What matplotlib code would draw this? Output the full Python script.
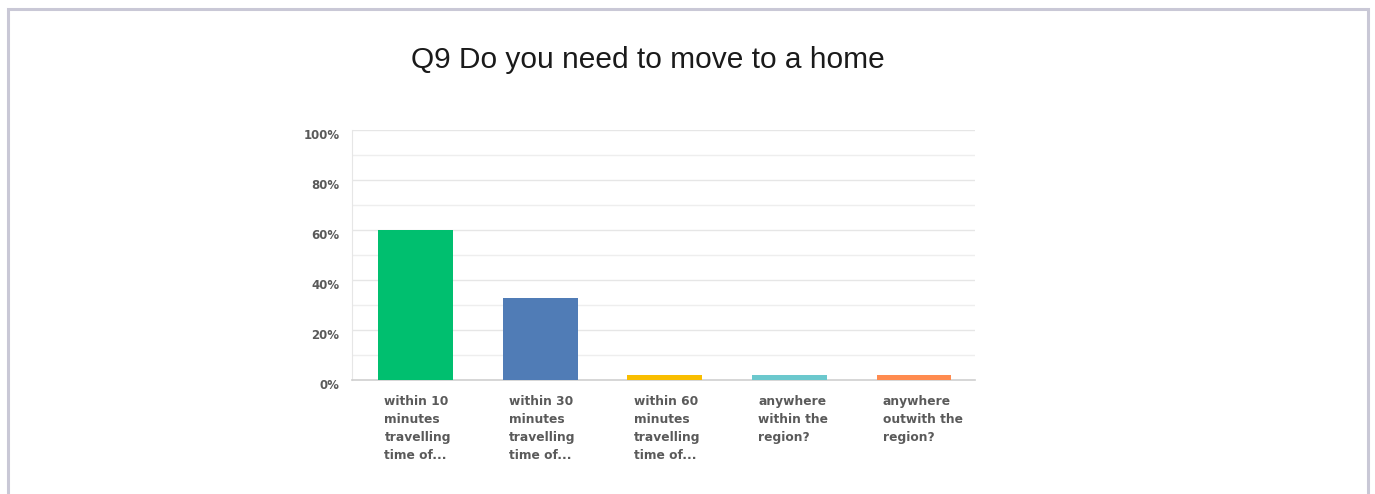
import matplotlib.pyplot as plt
from matplotlib.patches import Rectangle
from matplotlib.transforms import ScaledTranslation

# answer options and share of responses (%)
categories = [
    "within 10\nminutes\ntravelling\ntime of...",
    "within 30\nminutes\ntravelling\ntime of...",
    "within 60\nminutes\ntravelling\ntime of...",
    "anywhere\nwithin the\nregion?",
    "anywhere\noutwith the\nregion?",
]
values = [60, 33, 2, 2, 2]
colors = ["#00bf6f", "#507cb6", "#f9be00", "#6bc8cd", "#ff8b4f"]
y_ticks = [0, 20, 40, 60, 80, 100]
y_tick_labels = ["0%", "20%", "40%", "60%", "80%", "100%"]

fig = plt.figure(figsize=(13.75, 4.94), dpi=100)

# light frame around the panel
fig.patches.append(Rectangle((7.5 / 1375, -0.05), 1360 / 1375, 0.05 + 485 / 494,
                             transform=fig.transFigure, fill=False,
                             edgecolor="#c9c8d6", linewidth=2.2))

fig.text(648 / 1375, 1 - 60 / 494, "Q9 Do you need to move to a home",
         ha="center", va="center", fontsize=21.5, family="Liberation Sans",
         color="#1a1a1a")

ax = fig.add_axes([352 / 1375, 1 - 380 / 494, 623 / 1375, 250 / 494])
x = range(len(values))
ax.bar(x, values, width=0.6, color=colors, zorder=3)

ax.set_xlim(-0.51, 4.49)
ax.set_ylim(0, 100)

# grid lines every 10%
for g in range(10, 101, 10):
    ax.axhline(g, color="#eeeeee" if g % 20 else "#e6e6e6", linewidth=1, zorder=1)

for s in ["top", "right"]:
    ax.spines[s].set_visible(False)
ax.spines["left"].set_color("#e6e6e6")
ax.spines["bottom"].set_color("#cfcfcf")
ax.spines["bottom"].set_linewidth(1.2)

ax.set_yticks(y_ticks)
ax.set_yticklabels(y_tick_labels)
ax.tick_params(axis="y", length=0, pad=9)
shift = ScaledTranslation(0, -4 / 100, fig.dpi_scale_trans)
for lbl in ax.get_yticklabels():
    lbl.set_fontsize(8.5)
    lbl.set_fontweight("bold")
    lbl.set_color("#5a5a5a")
    lbl.set_transform(lbl.get_transform() + shift)

ax.set_xticks([])
for i, cat in enumerate(categories):
    ax.text(i - 0.25, -6, cat, ha="left", va="top", fontsize=8.8,
            fontweight="bold", color="#5a5a5a", linespacing=1.5,
            clip_on=False)

fig.savefig("out.png", dpi=100, facecolor="white")
